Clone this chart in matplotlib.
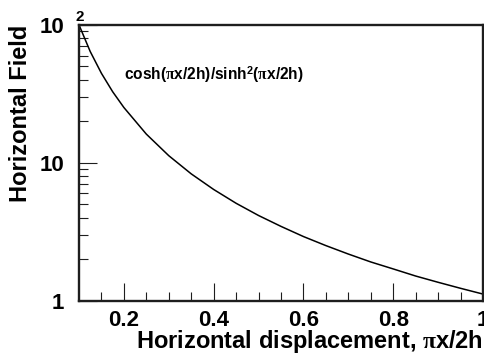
import matplotlib
matplotlib.use("Agg")
import matplotlib.pyplot as plt
from matplotlib.ticker import FixedLocator, FixedFormatter, LogLocator, NullFormatter

plt.rcParams['font.family'] = ['Liberation Sans', 'DejaVu Sans']
plt.rcParams['font.weight'] = 'bold'
plt.rcParams['mathtext.fontset'] = 'custom'
plt.rcParams['mathtext.rm'] = 'Liberation Sans:bold'
plt.rcParams['mathtext.bf'] = 'Liberation Sans:bold'
plt.rcParams['mathtext.it'] = 'Liberation Serif'

# Data
x_vals = [0.10, 0.125, 0.15, 0.175, 0.20, 0.25, 0.30, 0.35, 0.40, 0.45, 0.50,
          0.55, 0.60, 0.65, 0.70, 0.75, 0.80, 0.85, 0.90, 0.95, 1.00]
y_vals = [100.2, 64.2, 44.6, 32.8, 25.2, 16.16, 11.27, 8.32, 6.41, 5.09, 4.15,
          3.46, 2.92, 2.51, 2.18, 1.91, 1.70, 1.51, 1.36, 1.23, 1.117]

x_ticks = [0.2, 0.4, 0.6, 0.8, 1.0]
x_ticklabels = ['0.2', '0.4', '0.6', '0.8', '1']
y_ticks = [1, 10, 100]
y_ticklabels = ['1', '10', '10']

fig = plt.figure(figsize=(4.85, 3.55), dpi=100)
W, H = 485, 355
ax = fig.add_axes([79 / W, 1 - 300.7 / H, (483 - 79) / W, (300.7 - 25) / H])

ax.plot(x_vals, y_vals, color='black', lw=1.1)
ax.set_yscale('log')
ax.set_xlim(0.1, 1.0)
ax.set_ylim(1, 100)

spine_c = '#1e1e1e'
for s in ax.spines.values():
    s.set_linewidth(1.7)
    s.set_color(spine_c)

ax.xaxis.set_major_locator(FixedLocator(x_ticks))
ax.xaxis.set_major_formatter(FixedFormatter(x_ticklabels))
ax.xaxis.set_minor_locator(FixedLocator([0.15, 0.25, 0.3, 0.35, 0.45, 0.5, 0.55, 0.65,
                                         0.7, 0.75, 0.85, 0.9, 0.95]))
ax.yaxis.set_major_locator(FixedLocator(y_ticks))
ax.yaxis.set_major_formatter(FixedFormatter(y_ticklabels))
ax.yaxis.set_minor_locator(LogLocator(base=10, subs=range(2, 10)))
ax.yaxis.set_minor_formatter(NullFormatter())

ax.tick_params(which='both', direction='in', top=False, right=False, color=spine_c, width=0.8)
ax.tick_params(which='major', length=13)
ax.tick_params(which='minor', length=6.5)
ax.tick_params(axis='x', which='major', labelsize=16, pad=6.5)
ax.tick_params(axis='y', which='major', labelsize=16, pad=10.5)
for lab in ax.get_xticklabels() + ax.get_yticklabels():
    lab.set_fontweight('bold')

# exponent of 10^2
fig.text(75 / W, 1 - 21 / H, '2', fontsize=11, fontweight='bold', ha='left', va='baseline')

# axis titles
fig.text(21 / W, 1 - 25 / H, 'Horizontal Field', rotation=90, ha='center', va='top',
         fontsize=17, fontweight='bold')
fig.text(483 / W, 1 - 348 / H, r'Horizontal displacement, $\pi$x/2h', ha='right',
         va='baseline', fontsize=17, fontweight='bold')

# formula annotation
fig.text(124 / W, 1 - 80 / H, r'cosh($\pi$x/2h)/sinh$^{2}$($\pi$x/2h)', ha='left',
         va='baseline', fontsize=11.2, fontweight='bold')

fig.savefig('out.png', dpi=100)
